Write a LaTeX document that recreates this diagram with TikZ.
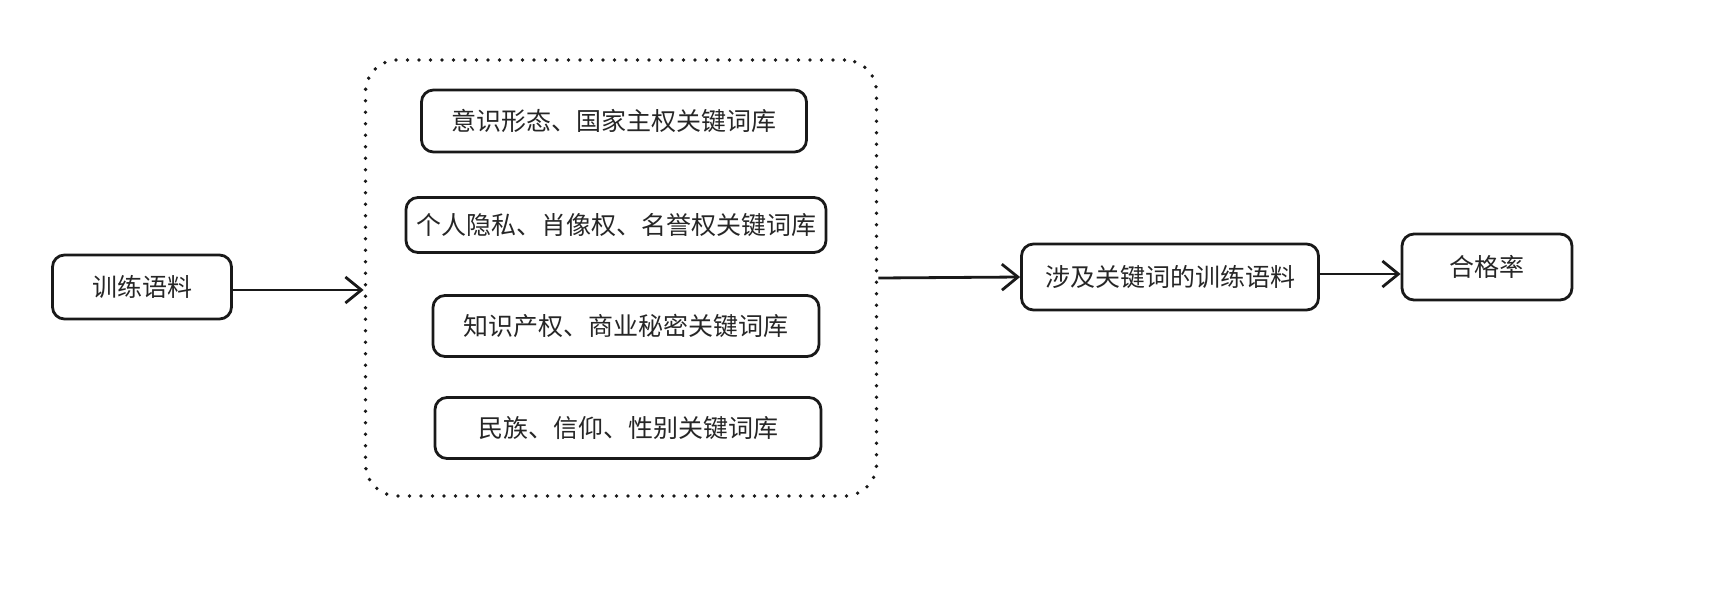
\documentclass[tikz,border=0pt]{standalone}
\usepackage{fontspec}
\setmainfont{Noto Sans CJK SC}
\usetikzlibrary{arrows.meta}
\begin{document}
\begin{tikzpicture}[x=1pt,y=-1pt,
  box/.style={draw=black!90,line width=2.8pt,rounded corners=12pt,inner sep=0pt,
    font=\fontsize{25}{29}\selectfont,text=black!85},
  container/.style={draw=black!90,line width=3.8pt,rounded corners=32pt,
    dash pattern=on 0pt off 11.5pt,line cap=round},
  arr/.style={draw=black!90,line width=2.8pt,
    -{Straight Barb[length=16pt,width=26pt,line width=2.8pt]}}]
\useasboundingbox (0,0) rectangle (1710,592);
\node[box,minimum width=179pt,minimum height=64pt] (src) at (142,287) {训练语料};
\node[container,minimum width=511pt,minimum height=436pt] (cont) at (621,278) {};
\node[box,minimum width=385pt,minimum height=62pt] (k1) at (614,121) {意识形态、国家主权关键词库};
\node[box,minimum width=420pt,minimum height=55pt] (k2) at (616,225) {个人隐私、肖像权、名誉权关键词库};
\node[box,minimum width=386pt,minimum height=61pt] (k3) at (626,326) {知识产权、商业秘密关键词库};
\node[box,minimum width=386pt,minimum height=61pt] (k4) at (628,428) {民族、信仰、性别关键词库};
\node[box,minimum width=297pt,minimum height=66pt] (sel) at (1170,277) {涉及关键词的训练语料};
\node[box,minimum width=170pt,minimum height=66pt] (rate) at (1487,267) {合格率};
\draw[arr] ([yshift=-3pt]src.east) -- ([yshift=-3pt]src.east -| cont.west);
\draw[arr] (cont.east) -- (sel.west);
\draw[arr] ([yshift=3pt]sel.east) -- ([yshift=3pt]sel.east -| rate.west);
\end{tikzpicture}
\end{document}
